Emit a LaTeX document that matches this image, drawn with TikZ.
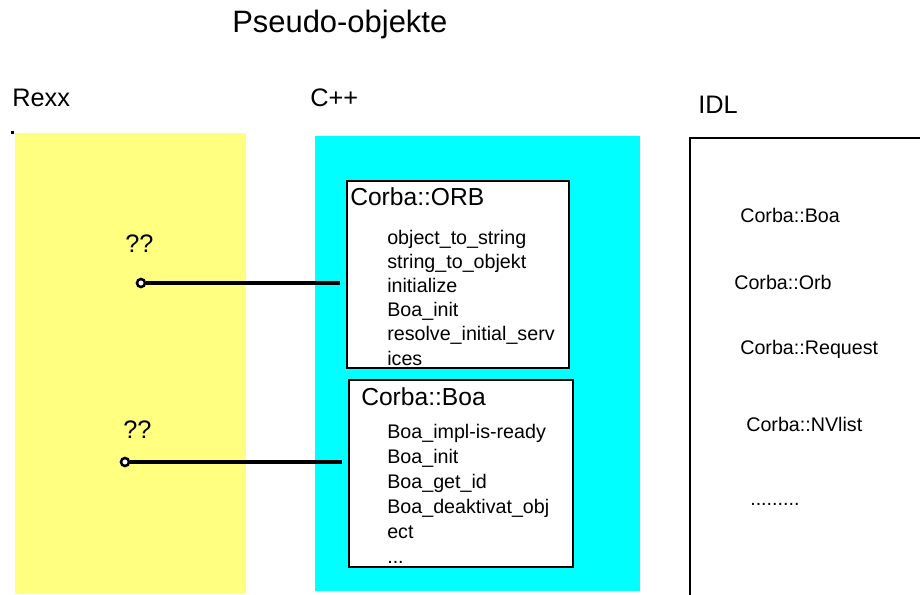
\documentclass[tikz,border=0pt]{standalone}
\usepackage{fontspec}
\setmainfont{Liberation Sans}
\usetikzlibrary{positioning}
\definecolor{rexxbg}{HTML}{FFFF80}
\definecolor{cppbg} {HTML}{00FFFF}
\definecolor{ink}   {HTML}{000000}

\tikzset{
  lane/.style={font=\fontsize{18}{22}\selectfont, anchor=base west, inner sep=0pt},
  head/.style={font=\fontsize{17.5}{21}\selectfont, anchor=base west, inner sep=0pt},
  item/.style={font=\fontsize{14}{17}\selectfont, anchor=base west, inner sep=0pt},
  classbox/.style={draw=ink, line width=1.3pt, fill=white, anchor=north west, inner sep=0pt,
                   minimum height=4.675cm},
  pin/.style={circle, draw=ink, fill=white, line width=1.8pt, minimum size=0.2cm, inner sep=0pt},
  link/.style={ink, line width=2.6pt, shorten >=0.15cm}
}

\begin{document}
\begin{tikzpicture}[x=0.025cm, y=-0.025cm]
    \useasboundingbox (0, 0) rectangle (920, 594);

    % lanes
    \fill[rexxbg] (15,  133) rectangle (246, 594);
    \fill[cppbg]  (315, 136) rectangle (640, 591);
    \fill[ink]    (11,  131) rectangle (14, 134);
    \draw[ink, line width=1.3pt] (925, 138) -- (690, 138) -- (690, 596);

    \node[font=\fontsize{22}{26}\selectfont, anchor=base west, inner sep=0pt] (title) at (232, 32) {Pseudo-objekte};
    \node[lane] (rexx) at (12,  106) {Rexx};
    \node[lane] (cpp)  at (310, 106) {C++};
    \node[lane] (idl)  at (698, 113) {IDL};

    % C++ classes
    \node[classbox, minimum width=5.55cm] (orb) at (346, 180) {};
    \node[classbox, minimum width=5.6cm]  (boa) at (348, 379) {};

    \node[head] at (350, 205) {Corba::ORB};
    \foreach \t [count=\i from 0] in {object\_to\_string, string\_to\_objekt, initialize,
                                      Boa\_init, resolve\_initial\_serv, ices}
      \node[item] at (387, 244+24.2*\i) {\t};

    \node[head] at (361, 405) {Corba::Boa};
    \foreach \t [count=\i from 0] in {Boa\_impl-is-ready, Boa\_init, Boa\_get\_id,
                                      Boa\_deaktivat\_obj, ect}
      \node[item] at (387, 438+25*\i) {\t};
    \node[item] at (387, 563) {...};

    % Rexx side
    \node[lane] (q1) at (125, 252) {??};
    \node[lane] (q2) at (123, 438) {??};
    \node[pin] (pin1) at (141, 283) {};
    \node[pin] (pin2) at (125, 462) {};
    \draw[link] (pin1.east) -- (pin1 -| orb.west);
    \draw[link] (pin2.east) -- (pin2 -| boa.west);

    % IDL
    \node[item] (iboa) at (740, 222) {Corba::Boa};
    \node[item] (iorb) at (734, 289) {Corba::Orb};
    \node[item] (ireq) at (740, 354) {Corba::Request};
    \node[item] (invl) at (746, 431) {Corba::NVlist};
    \node[item] (idot) at (750, 505) {.........};
\end{tikzpicture}
\end{document}
